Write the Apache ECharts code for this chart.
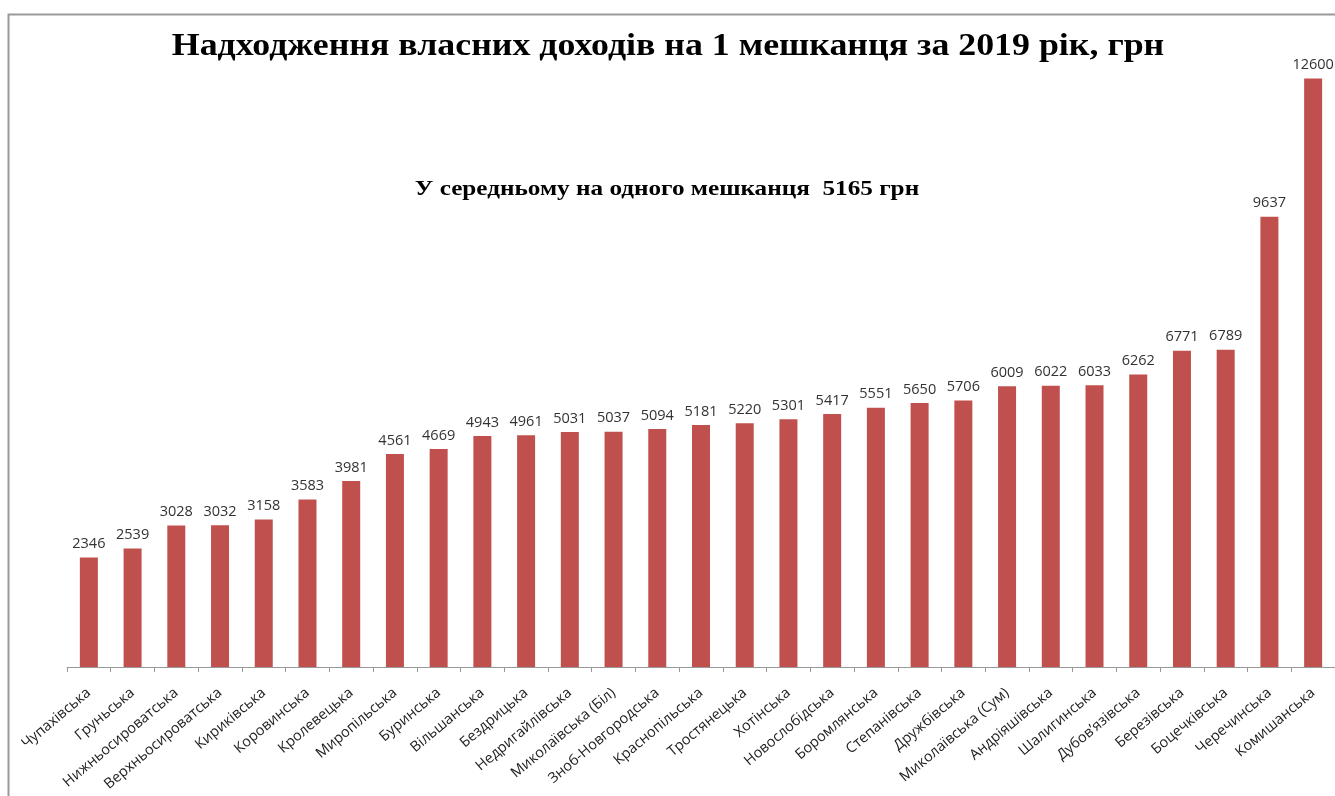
<!DOCTYPE html>
<html>
<head>
<meta charset="utf-8">
<script src="https://cdn.jsdelivr.net/npm/echarts@6/dist/echarts.min.js"></script>
<style>
html,body{margin:0;padding:0;background:#fff;}
#c{width:1335px;height:796px;}
</style>
</head>
<body>
<div id="c"></div>
<script>
const categories = ["Чупахівська","Груньська","Нижньосироватська","Верхньосироватська","Кириківська","Коровинська","Кролевецька","Миропільська","Буринська","Вільшанська","Бездрицька","Недригайлівська","Миколаївська (Біл)","Зноб-Новгородська","Краснопільська","Тростянецька","Хотінська","Новослобідська","Боромлянська","Степанівська","Дружбівська","Миколаївська (Сум)","Андріяшівська","Шалигинська","Дубов’язівська","Березівська","Боцечківська","Черечинська","Комишанська"];
const values = [2346,2539,3028,3032,3158,3583,3981,4561,4669,4943,4961,5031,5037,5094,5181,5220,5301,5417,5551,5650,5706,6009,6022,6033,6262,6771,6789,9637,12600];
const titleText = "Надходження власних доходів на 1 мешканця за 2019 рік, грн";
const subtitleText = "У середньому на одного мешканця  5165 грн";

const chart = echarts.init(document.getElementById('c'));
chart.setOption({
  animation: false,
  backgroundColor: '#fff',
  graphic: [
    {type:'rect', left:6, top:12, shape:{width:1400, height:900}, style:{fill:'none', stroke:'#999', lineWidth:2}, silent:true, z:-1},
    {type:'text', x:668, y:47, scaleX:1.12, originX:0, originY:0, style:{text:titleText, fontFamily:'Liberation Serif', fontWeight:'bold', fontSize:32, fill:'#000', align:'center', verticalAlign:'middle'}},
    {type:'text', x:667, y:190, scaleX:1.2, originX:0, originY:0, style:{text:subtitleText, fontFamily:'Liberation Serif', fontWeight:'bold', fontSize:21, fill:'#000', align:'center', verticalAlign:'middle'}}
  ],
  grid: {left: 67, right: 0, top: 13, bottom: 129, containLabel:false},
  xAxis: {
    type: 'category',
    data: categories,
    boundaryGap: true,
    axisLine: {lineStyle:{color:'#999', width:1}},
    axisTick: {show:true, interval:0, length:5, lineStyle:{color:'#999'}},
    axisLabel: {interval:0, rotate:40, fontFamily:'Open Sans', fontSize:14.5, color:'#222', margin:24}
  },
  yAxis: {type:'value', min:0, max:14000, show:false, splitLine:{show:false}},
  series: [{
    type:'bar',
    data: values,
    barWidth: 18,
    itemStyle:{color:'#C0504D'},
    label:{show:true, position:'top', distance:6, fontFamily:'Open Sans', fontSize:14.5, color:'#333'}
  }]
});
</script>
</body>
</html>
